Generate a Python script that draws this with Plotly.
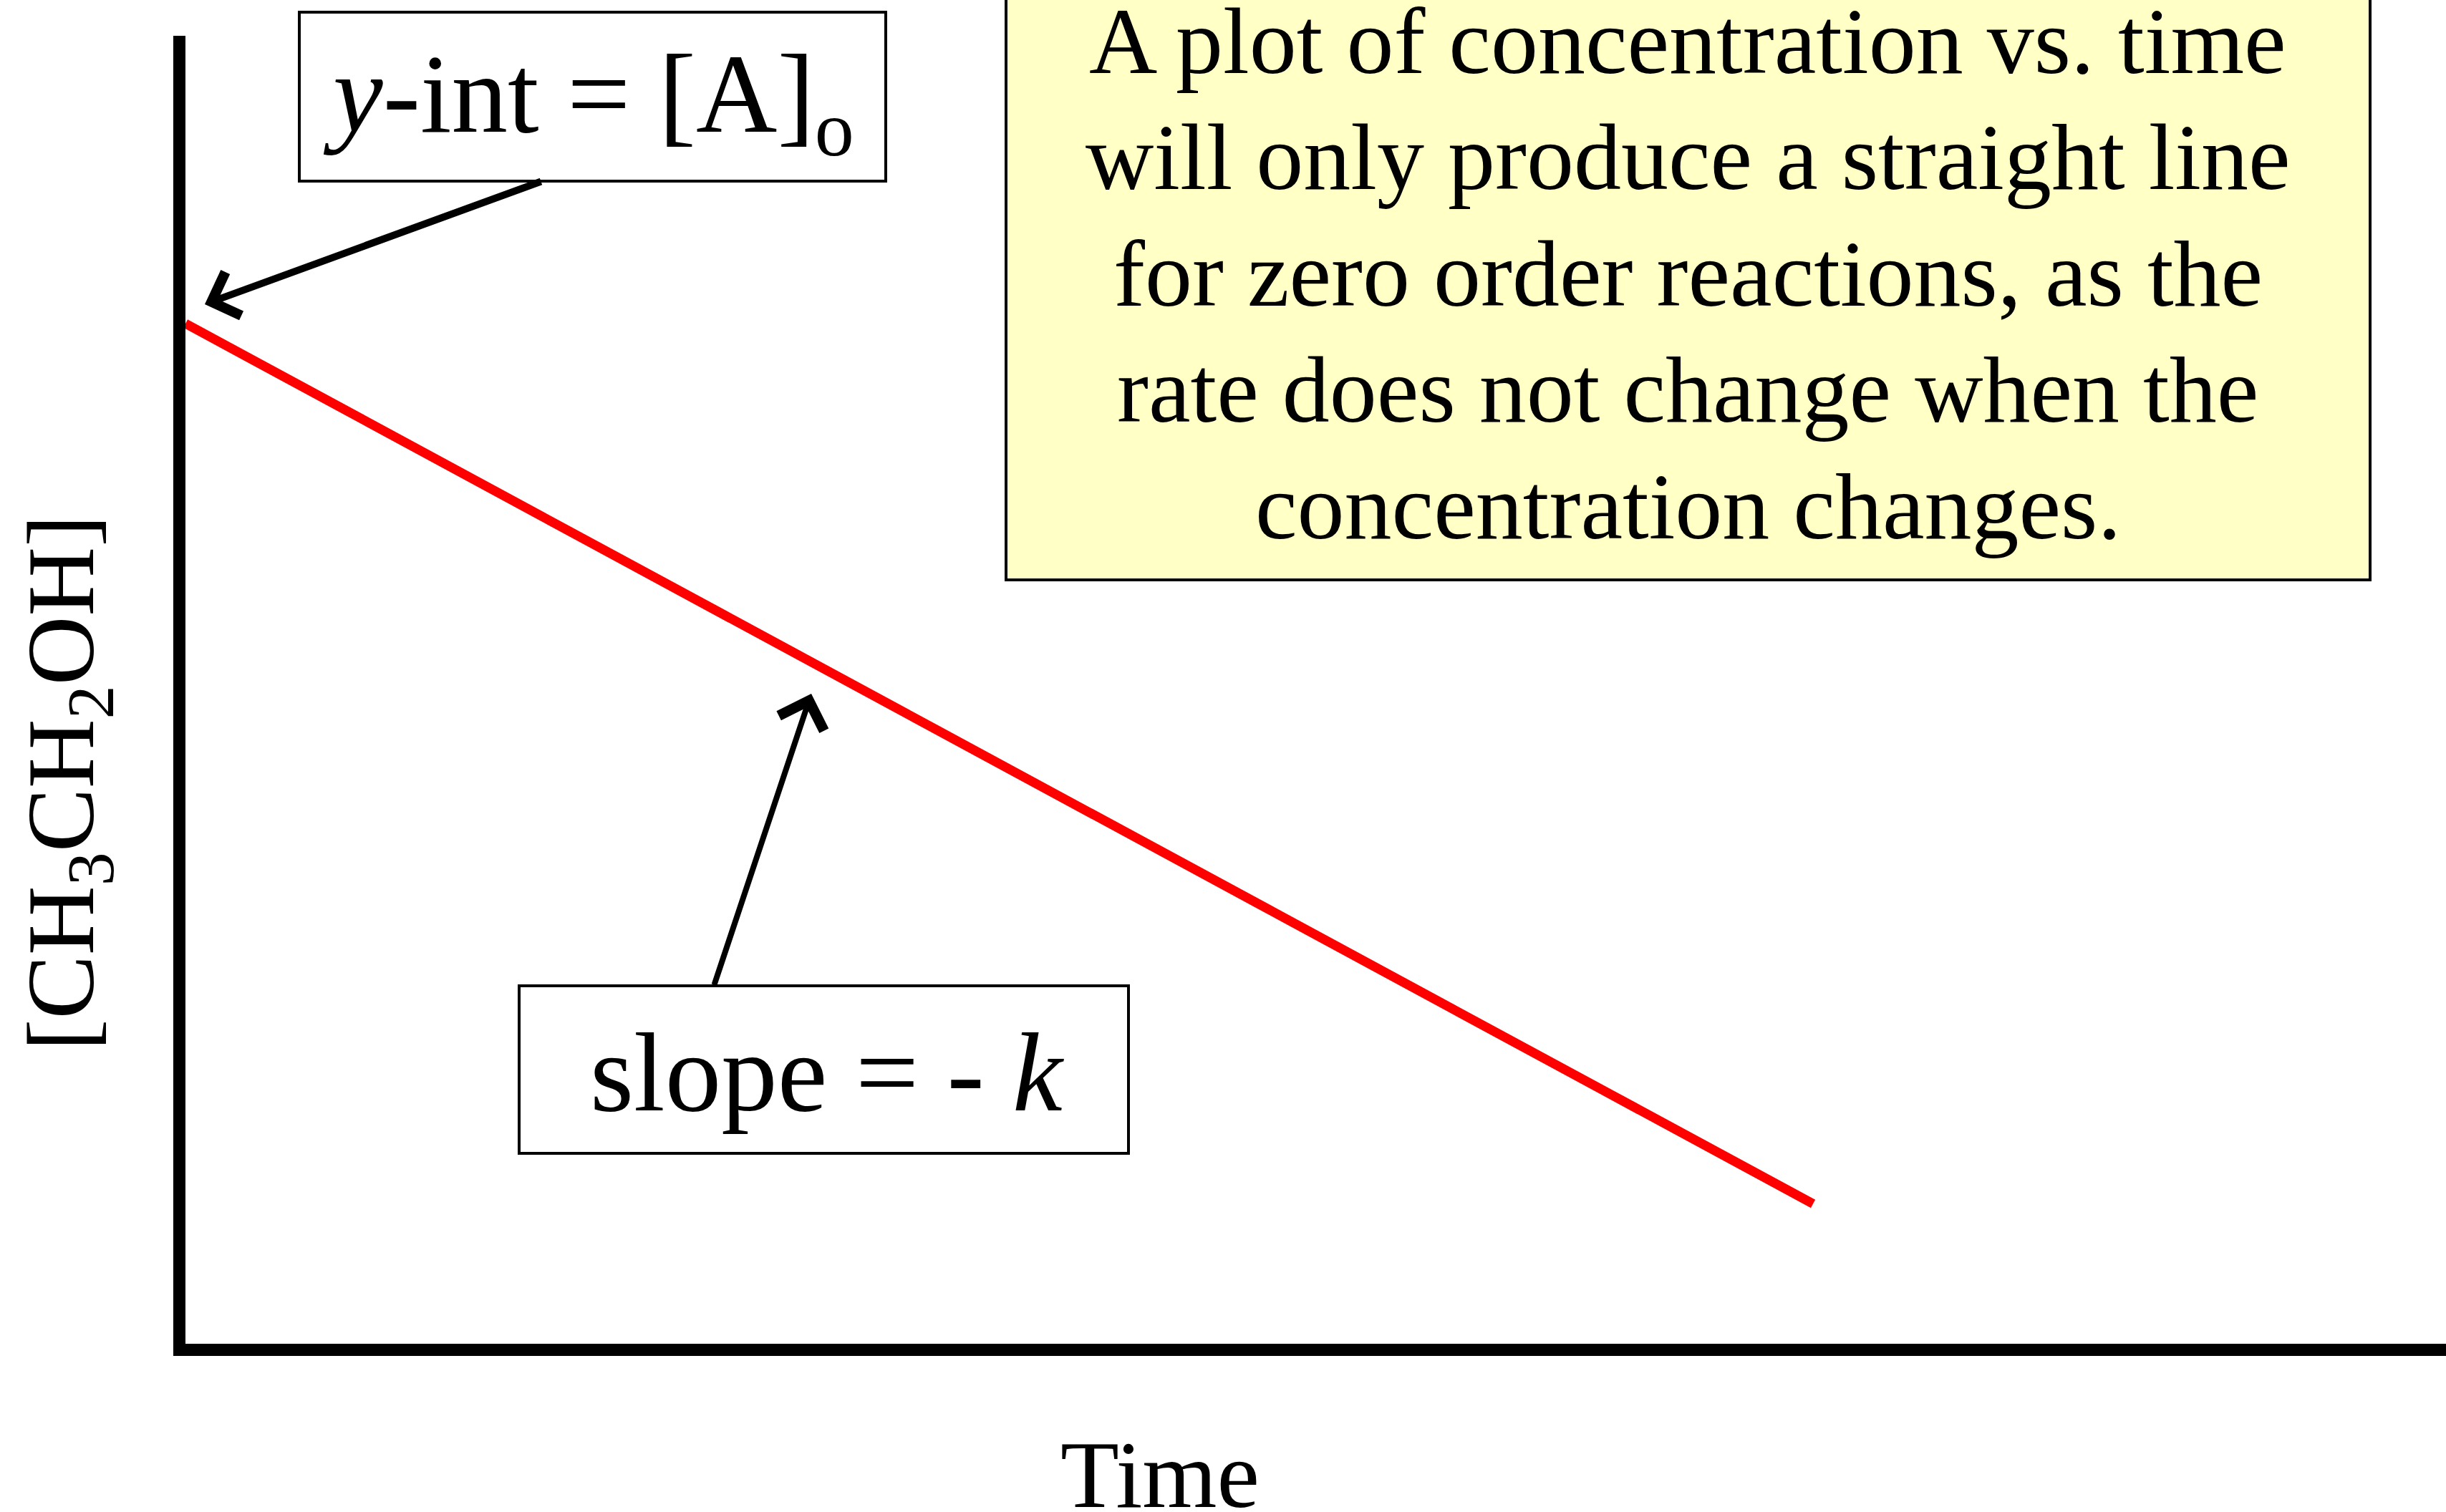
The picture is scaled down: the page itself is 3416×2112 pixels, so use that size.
import plotly.graph_objects as go

# ---------------- data ----------------
time_values = [0, 72]
concentration_values = [78, 10.7]

x_axis_title = "Time"
y_axis_title = "[CH<sub>3</sub>CH<sub>2</sub>OH]"
yint_label = "<i>y</i>-int = [A]<sub>o</sub>"
slope_label = "slope = - <i>k</i>"
note_lines = [
    "A plot of concentration vs. time",
    "will only produce a straight line",
    "for zero order reactions, as the",
    "rate does not change when the",
    "concentration changes.",
]

# ---------------- layout geometry ----------------
W, H = 3416, 2112
L, R, T, B = 259, 3416, 50, 1877
X_RANGE = [0, 100]
Y_RANGE = [0, 100]
FONT = "Liberation Serif, Times New Roman, serif"


def paper_x(p):
    return (p - L) / (R - L)


def paper_y(p):
    return (B - p) / (B - T)


def data_x(p):
    return X_RANGE[0] + paper_x(p) * (X_RANGE[1] - X_RANGE[0])


def data_y(p):
    return Y_RANGE[0] + paper_y(p) * (Y_RANGE[1] - Y_RANGE[0])


fig = go.Figure()
fig.add_trace(go.Scatter(
    x=time_values, y=concentration_values, mode="lines",
    line=dict(color="#FF0000", width=13), hoverinfo="skip", showlegend=False,
))


# boxes
def box(x0, y0, x1, y1, fill, lw):
    fig.add_shape(type="rect", xref="paper", yref="paper",
                  x0=paper_x(x0), x1=paper_x(x1), y0=paper_y(y1), y1=paper_y(y0),
                  fillcolor=fill, line=dict(color="black", width=lw), layer="above")


box(418, 17, 1237, 253, "white", 4)
box(725, 1377, 1576, 1611, "white", 4)
box(1405, -30, 3310, 810, "#FFFFC6", 4)

# arrows
fig.add_annotation(xref="x", yref="y", axref="x", ayref="y",
                   x=data_x(286), y=data_y(425), ax=data_x(757), ay=data_y(253),
                   text="", showarrow=True, arrowhead=4, arrowwidth=10,
                   arrowsize=1.25, arrowcolor="black", standoff=0)
fig.add_annotation(xref="x", yref="y", axref="x", ayref="y",
                   x=data_x(1133), y=data_y(969), ax=data_x(997), ay=data_y(1377),
                   text="", showarrow=True, arrowhead=4, arrowwidth=8,
                   arrowsize=1.6, arrowcolor="black", standoff=0)


# texts
def label(text, cx, cy, size, angle=0):
    fig.add_annotation(xref="paper", yref="paper", x=paper_x(cx), y=paper_y(cy),
                       text=text, showarrow=False, xanchor="center", yanchor="middle",
                       align="center", textangle=angle,
                       font=dict(family=FONT, size=size, color="black"))


label(yint_label, 822, 142, 157)
label(slope_label, 1155, 1498, 157)

NOTE_SIZE = 132
for i, line in enumerate(note_lines):
    baseline = 102 + 162.5 * i
    label(line, 2357, baseline - 0.3375 * NOTE_SIZE, NOTE_SIZE)

label(y_axis_title, 94, 1094, 134, angle=-90)
label(x_axis_title, 1620, 2060, 134)

axis_common = dict(showline=True, linecolor="black", linewidth=17, showgrid=False,
                   zeroline=False, showticklabels=False, ticks="", fixedrange=True)
fig.update_xaxes(range=X_RANGE, **axis_common)
fig.update_yaxes(range=Y_RANGE, **axis_common)

fig.update_layout(
    width=W, height=H, autosize=False,
    margin=dict(l=L, r=W - R, t=T, b=H - B, pad=0),
    paper_bgcolor="white", plot_bgcolor="white",
    font=dict(family=FONT, color="black"),
)

fig.write_html("out.html", config={"displayModeBar": False},
               post_script="document.body.style.margin='0';document.body.style.overflow='hidden';")
